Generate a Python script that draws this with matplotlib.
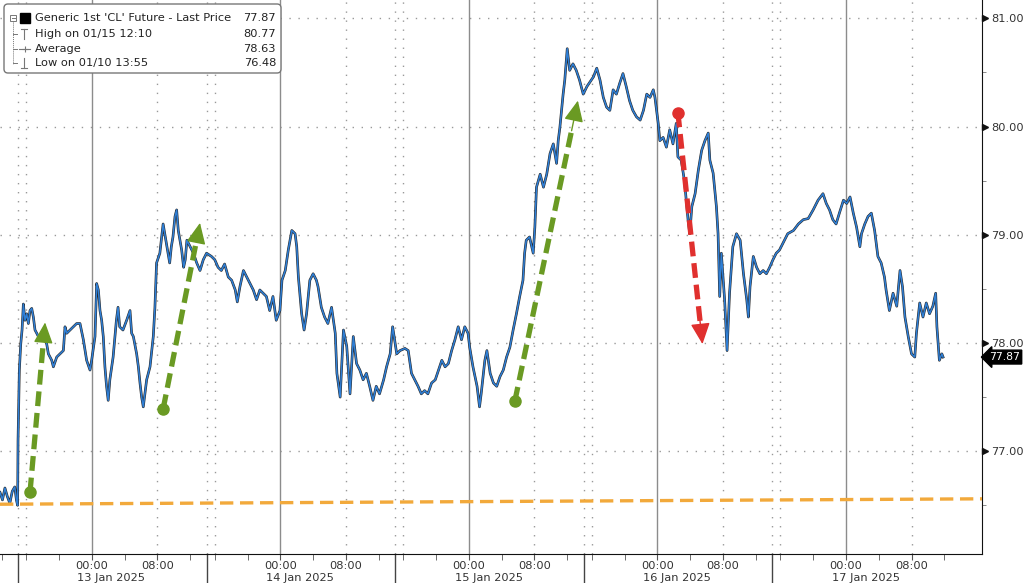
import matplotlib
matplotlib.use("Agg")
import matplotlib.pyplot as plt
from matplotlib.patches import FancyBboxPatch, Rectangle

# hours of trading time, session k (13..17 Jan) starts at 23*k (15:00 local)
hours = [-2.2, -1.9, -1.6, -1.3, -1.0, -0.7, -0.4, -0.2, -0.05,
         0.0, 0.16, 0.33, 0.49, 0.65, 0.85, 1.06, 1.26, 1.46, 1.67, 1.87, 2.07, 2.28, 2.68, 3.09, 3.5, 3.7,
         4.11, 4.31, 4.72, 5.12, 5.53, 5.73, 5.94, 6.34, 6.75, 7.15, 7.56, 7.97, 8.37, 8.78, 8.98, 9.39,
         9.59, 9.8, 10.0, 10.2, 10.4, 10.6, 10.8, 11.0, 11.2, 11.6, 12.0, 12.2, 12.4, 12.8, 13.25, 13.66,
         13.86, 14.07, 14.47, 14.68, 14.88, 15.08, 15.28, 15.69, 16.1, 16.5, 16.7, 16.9, 17.3, 17.7, 18.1,
         18.5, 18.7, 18.9, 19.15, 19.35, 19.55, 19.96, 20.2, 20.4, 20.6, 21.0, 21.4, 21.8, 22.2, 22.6,
         23.0, 23.6, 24.0, 24.4, 24.8, 25.2, 25.65, 26.06, 26.5, 26.75, 27.07, 27.5, 27.9, 28.3, 28.7,
         29.1, 29.5, 29.9, 30.3, 30.7, 31.1, 31.5, 31.95, 32.2, 32.6, 32.97, 33.4, 33.8, 34.0, 34.2, 34.6,
         34.9, 35.2, 35.6, 36.0, 36.4, 36.6, 37.0, 37.4, 37.8, 38.25, 38.7, 38.9, 39.3, 39.7, 40.1, 40.5,
         40.9, 41.3, 41.7, 42.1, 42.5, 42.9, 43.3, 43.7, 44.1, 44.6, 44.96, 45.4, 45.7, 46.2, 46.6, 47.2,
         47.6, 48.0, 48.4, 48.8, 49.2, 49.6, 50.0, 50.45, 50.9, 51.3, 51.7, 52.1, 52.5, 52.9, 53.3, 53.7,
         54.1, 54.5, 54.9, 55.1, 55.5, 56.0, 56.3, 56.5, 56.95, 57.2, 57.6, 58.0, 58.4, 58.8, 59.2, 59.6,
         60.0, 60.4, 60.8, 61.2, 61.6, 61.8, 62.0, 62.4, 62.85, 63.05, 63.25, 63.7, 64.1, 64.5, 64.9, 65.3,
         65.7, 65.9, 66.1, 66.3, 66.5, 66.7, 67.0, 67.3, 67.7, 68.1, 68.5, 68.95, 69.4, 70.2, 70.6, 71.0,
         71.4, 71.8, 72.2, 72.6, 73.0, 73.4, 73.8, 74.2, 74.6, 75.0, 75.45, 75.9, 76.3, 76.7, 77.1, 77.5,
         77.7, 78.1, 78.3, 78.7, 79.1, 79.5, 79.9, 80.3, 80.5, 80.9, 81.3, 81.75, 81.95, 82.2, 82.6, 83.0,
         83.4, 83.8, 84.2, 84.4, 84.8, 85.2, 85.4, 85.6, 85.8, 86.2, 86.5, 86.8, 87.2, 87.65, 88.1, 88.5,
         88.9, 89.1, 89.3, 89.7, 90.1, 90.5, 90.9, 91.3, 91.7, 92.1, 92.5, 92.9, 93.3, 93.9, 94.6, 95.2,
         95.8, 96.4, 97.0, 97.6, 98.2, 98.6, 99.0, 99.4, 99.8, 100.2, 100.7, 101.1, 101.5, 101.9, 102.3,
         102.7, 102.9, 103.3, 103.7, 104.1, 104.5, 104.9, 105.3, 105.7, 105.9, 106.3, 106.75, 107.2, 107.6,
         107.9, 108.2, 108.6, 109.0, 109.4, 109.6, 110.0, 110.4, 110.8, 111.2, 111.6, 111.95, 112.1, 112.4,
         112.7, 112.85]
price = [76.62, 76.55, 76.66, 76.58, 76.52, 76.63, 76.67, 76.55, 76.50,
         77.10, 77.75, 77.99, 78.12, 78.36, 78.21, 78.27, 78.18, 78.30, 78.32, 78.24, 78.12, 78.09, 78.03, 78.06, 77.99, 77.90,
         77.84, 77.78, 77.87, 77.90, 77.93, 78.15, 78.09, 78.12, 78.15, 78.18, 78.18, 78.03, 77.84, 77.75, 77.84, 78.06,
         78.55, 78.49, 78.30, 78.21, 78.06, 77.78, 77.60, 77.47, 77.66, 77.87, 78.21, 78.33, 78.15, 78.12, 78.21, 78.30,
         78.09, 78.06, 77.90, 77.78, 77.63, 77.50, 77.41, 77.66, 77.78, 78.06, 78.33, 78.74, 78.83, 79.10, 78.92,
         78.74, 78.89, 78.98, 79.17, 79.23, 79.04, 78.86, 78.70, 78.77, 78.95, 78.89, 78.83, 78.74, 78.67, 78.77,
         78.83, 78.80, 78.77, 78.70, 78.67, 78.73, 78.61, 78.58, 78.49, 78.38, 78.52, 78.67, 78.61, 78.55, 78.49,
         78.40, 78.49, 78.46, 78.43, 78.30, 78.43, 78.21, 78.30, 78.58, 78.67, 78.86, 79.04, 79.01, 78.89, 78.61, 78.27,
         78.12, 78.27, 78.58, 78.64, 78.58, 78.52, 78.33, 78.24, 78.18, 78.33, 78.09, 77.72, 77.50, 78.12, 77.97, 77.53,
         78.06, 77.81, 77.75, 77.66, 77.72, 77.60, 77.47, 77.60, 77.53, 77.66, 77.78, 77.90, 78.15, 77.90, 77.93, 77.95,
         77.93, 77.72, 77.66, 77.60, 77.53, 77.56, 77.53, 77.63, 77.66, 77.75, 77.84, 77.78, 77.81, 77.93, 78.03, 78.15,
         78.03, 78.15, 78.09, 77.96, 77.78, 77.60, 77.41, 77.53, 77.84, 77.93, 77.72, 77.63, 77.60, 77.69, 77.75, 77.87,
         77.96, 78.12, 78.27, 78.43, 78.58, 78.83, 78.95, 78.98, 78.83, 79.07, 79.44, 79.56, 79.44, 79.56, 79.75, 79.84,
         79.66, 79.87, 79.99, 80.15, 80.30, 80.43, 80.72, 80.52, 80.58, 80.52, 80.43, 80.30, 80.37, 80.46, 80.54, 80.43,
         80.27, 80.18, 80.15, 80.34, 80.30, 80.40, 80.49, 80.37, 80.24, 80.15, 80.09, 80.06, 80.15, 80.30, 80.27, 80.34,
         80.27, 80.03, 79.87, 79.90, 79.81, 79.97, 79.84, 80.03, 79.72, 79.69, 79.50, 79.13, 79.01, 79.26, 79.38, 79.60,
         79.78, 79.87, 79.94, 79.69, 79.57, 79.26, 79.01, 78.43, 78.83, 78.40, 77.93, 78.46, 78.89, 79.01, 78.95, 78.64,
         78.40, 78.24, 78.52, 78.80, 78.70, 78.64, 78.67, 78.64, 78.70, 78.77, 78.83, 78.86, 78.92, 79.01, 79.04, 79.10,
         79.14, 79.15, 79.23, 79.32, 79.38, 79.29, 79.23, 79.14, 79.10, 79.20, 79.32, 79.29, 79.35, 79.20, 79.07,
         78.89, 79.01, 79.10, 79.17, 79.20, 79.04, 78.80, 78.74, 78.61, 78.49, 78.30, 78.46, 78.34, 78.67,
         78.52, 78.24, 78.06, 77.90, 77.87, 78.09, 78.37, 78.24, 78.37, 78.27, 78.34, 78.46, 78.15, 77.84,
         77.90, 77.87]

dates = ["13 Jan 2025", "14 Jan 2025", "15 Jan 2025", "16 Jan 2025", "17 Jan 2025"]
session_len = 23
yticks = [77, 78, 79, 80, 81]
last_price = 77.87

green_arrows = [((1.46, 76.62), (3.3, 78.19)),
                ((17.7, 77.39), (22.2, 79.11)),
                ((60.6, 77.46), (68.3, 80.24))]
red_arrow = ((80.5, 80.13), (83.5, 77.99))
support = ((-2.2, 76.51), (117.6, 76.56))

legend_rows = [("Generic 1st 'CL' Future - Last Price", "77.87"),
               ("High on 01/15 12:10", "80.77"),
               ("Average", "78.63"),
               ("Low on 01/10 13:55", "76.48")]

plt.rcParams['font.family'] = 'DejaVu Sans'
fs = 8.2
fig = plt.figure(figsize=(10.24, 5.83), dpi=100)
ax = fig.add_axes([0, 1 - 554 / 583, 982 / 1024, 554 / 583])
ax.set_xlim(-2.2, 117.6)
ax.set_ylim(76.05, 81.17)

# grid
dots = (0, (1, 5.5))
for y in yticks:
    ax.axhline(y, color='#999999', lw=1.0, ls=dots, zorder=1)
for k in range(len(dates)):
    s = k * session_len
    ax.axvline(s + 9, color='#8c8c8c', lw=1.0, zorder=1)
    for off in (0, 1, 17):
        ax.axvline(s + off, color='#999999', lw=1.0, ls=dots, zorder=1)

# price line (candles approximated by a black edge under a blue line)
ax.plot(hours, price, color='#111111', lw=1.9, zorder=3, alpha=0.9)
ax.plot(hours, price, color='#2f7fd6', lw=1.1, zorder=4)

# support line
ax.plot([support[0][0], support[1][0]], [support[0][1], support[1][1]],
        color='#f2a93b', lw=2.4, ls=(0, (4, 2)), zorder=5)


def dashed_arrow(p0, p1, color):
    x0, y0 = p0
    x1, y1 = p1
    xm = x1 - 0.1 * (x1 - x0)
    ym = y1 - 0.1 * (y1 - y0)
    ax.plot([x0, xm], [y0, ym], color=color, lw=3.8, ls=(0, (2.8, 1.3)), zorder=6,
            dash_capstyle='butt')
    ax.plot([x0], [y0], 'o', color=color, ms=8, zorder=6)
    ax.annotate('', xy=(x1, y1), xytext=(xm, ym),
                arrowprops=dict(arrowstyle='-|>,head_length=1.3,head_width=0.6',
                                fc=color, ec=color, lw=1, shrinkA=0, shrinkB=0),
                zorder=6)


for a, b in green_arrows:
    dashed_arrow(a, b, '#6a9a23')
dashed_arrow(red_arrow[0], red_arrow[1], '#e0302e')

# spines
for sp in ('left', 'top'):
    ax.spines[sp].set_visible(False)
ax.spines['right'].set_color('#111111')
ax.spines['bottom'].set_color('#111111')

# y axis on right
ax.yaxis.tick_right()
ax.set_yticks(yticks)
ax.set_yticklabels(["%.2f" % v for v in yticks], fontsize=fs, color='#333333')
ax.set_yticks([v + 0.5 for v in yticks[:-1]] + [76.5], minor=True)
ax.tick_params(axis='y', which='major', length=0, pad=6.5)
ax.tick_params(axis='y', which='minor', length=3, color='#777777', direction='out')
ytr = ax.get_yaxis_transform()
ax.plot([1.0035] * len(yticks), yticks, marker='>', ls='none', color='#111111', ms=4.5,
        transform=ytr, clip_on=False)
ax.text(1.007, last_price, "77.87", transform=ytr, color='white', fontsize=7.8, va='center', ha='left',
        bbox=dict(boxstyle='larrow,pad=0.18', fc='black', ec='black'), clip_on=False, zorder=10)

# x axis
major, labels, minor = [], [], []
for k in range(len(dates)):
    s = k * session_len
    major += [s + 9, s + 17]
    labels += ["00:00", "08:00"]
    minor += [s + 1, s + 5, s + 13, s + 21]
minor.append(-2)
ax.set_xticks(major)
ax.set_xticklabels(labels, fontsize=fs, color='#333333')
ax.set_xticks(minor, minor=True)
ax.tick_params(axis='x', which='both', length=4, color='#555555', pad=1.0)
xtr = ax.get_xaxis_transform()
for k, d in enumerate(dates):
    s = k * session_len
    ax.text(s + 9 - 1.75, -0.043, d, transform=xtr, fontsize=fs, color='#333333', ha='left', va='center')
    ax.plot([s, s], [0, -0.06], color='#444444', lw=1.0, transform=xtr, clip_on=False)

# legend box drawn in pixel space
ov = fig.add_axes([0, 0, 1, 1], zorder=20)
ov.set_xlim(0, 1024)
ov.set_ylim(583, 0)
ov.axis('off')
ov.add_patch(FancyBboxPatch((4, 4), 277, 69, boxstyle='round,pad=0,rounding_size=4',
                            fc='white', ec='#777777', lw=1))
rows_y = [18, 34, 49, 63]
for (lab, val), y in zip(legend_rows, rows_y):
    ov.text(35, y, lab, fontsize=8.2, color='#222222', va='center', ha='left')
    ov.text(276, y, val, fontsize=8.2, color='#222222', va='center', ha='right')
g = '#777777'
ov.add_patch(Rectangle((10, 15), 6, 6, fc='white', ec=g, lw=0.7))
ov.plot([11.5, 14.5], [18, 18], color=g, lw=0.7)
ov.add_patch(Rectangle((20, 13), 10, 10, fc='black', ec='black'))
ov.plot([13, 13], [21, 64], color=g, lw=0.7, ls=(0, (1, 1)))
for y in rows_y[1:]:
    ov.plot([13, 17], [y, y], color=g, lw=0.7)
ov.plot([21, 27], [29, 29], color=g, lw=0.8)
ov.plot([24, 24], [29, 39], color=g, lw=0.8)
ov.plot([19, 30], [49, 49], color=g, lw=0.8)
ov.plot([24.5], [49], marker='+', color=g, ms=4, mew=0.8)
ov.plot([24, 24], [58, 68], color=g, lw=0.8)
ov.plot([21, 27], [68, 68], color=g, lw=0.8)

fig.savefig('out.png', dpi=100)
